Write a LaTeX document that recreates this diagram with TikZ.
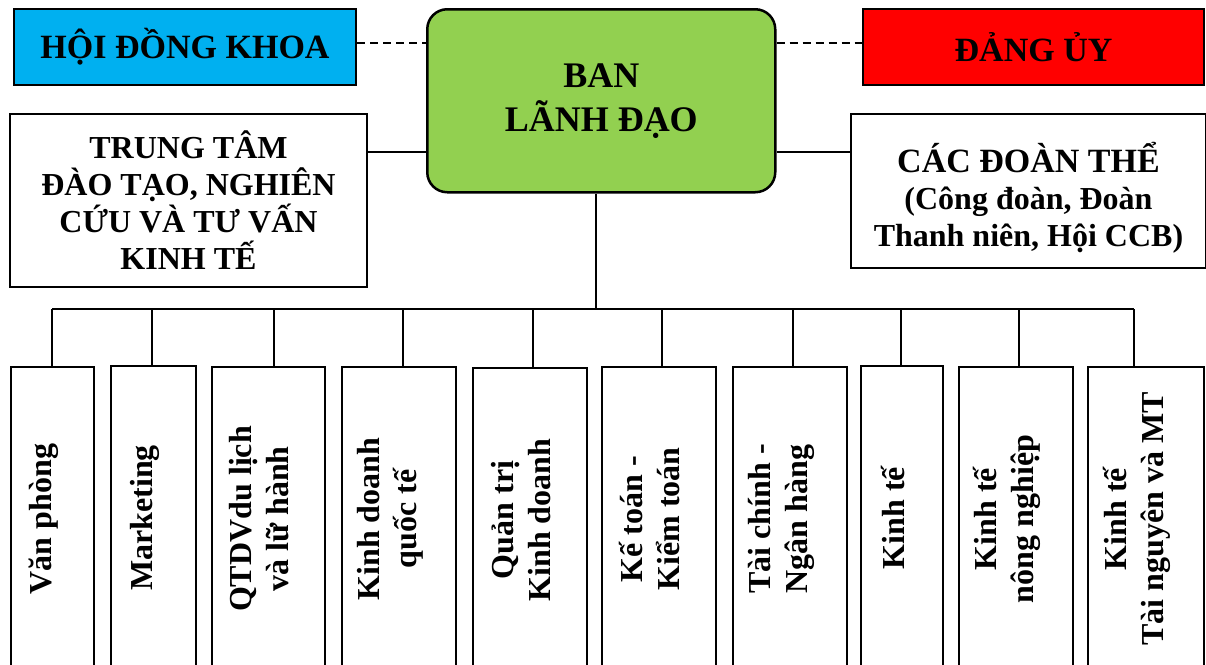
\documentclass[tikz,border=0pt]{standalone}
\usepackage{fontspec}
\setmainfont{Liberation Serif}
\definecolor{hoiblue}{HTML}{00B0F0}
\definecolor{dangred}{HTML}{FF0000}
\definecolor{bangreen}{HTML}{92D050}
\tikzset{
  box/.style={draw, line width=2pt, anchor=north west, inner sep=0pt, align=center,
    font=\bfseries\fontsize{32}{37}\selectfont},
  unitbox/.style={draw, line width=2pt, anchor=north west, inner sep=0pt,
    minimum height=304pt},
  vlabel/.style={rotate=90, align=center, inner sep=0pt,
    font=\bfseries\fontsize{32}{37}\selectfont},
  link/.style={line width=1.6pt},
  dashlink/.style={line width=1.6pt, dash pattern=on 8pt off 5pt},
}
\begin{document}
\begin{tikzpicture}[x=1pt,y=-1pt]
\useasboundingbox (0,0) rectangle (1206,664);
\clip (0,0) rectangle (1206,664);
\fill[white] (0,0) rectangle (1206,664);

% top row
\node[box, fill=hoiblue, minimum width=342pt, minimum height=76pt,
      font=\bfseries\fontsize{34}{40}\selectfont] (hoi) at (13,8) {HỘI ĐỒNG KHOA};
\node[box, fill=dangred, minimum width=341pt, minimum height=76pt,
      font=\bfseries\fontsize{34}{40}\selectfont] (dang) at (862,8) {ĐẢNG ỦY};
\node[box, fill=bangreen, rounded corners=20pt, line width=2.5pt,
      minimum width=348pt, minimum height=183pt,
      font=\bfseries\fontsize{36}{44}\selectfont] (ban) at (426,8) {BAN\\LÃNH ĐẠO};

% second row
\node[box, minimum width=357pt, minimum height=173pt] (tt) at (9,113)
  {TRUNG TÂM\\ĐÀO TẠO, NGHIÊN\\CỨU VÀ TƯ VẤN\\KINH TẾ};
\node[box, minimum width=355pt, minimum height=154pt] (dt) at (850,113)
  {\rule{0pt}{44pt}{\fontsize{34}{37}\selectfont CÁC ĐOÀN THỂ}\\(Công đoàn, Đoàn\\Thanh niên, Hội CCB)};

% dashed links
\draw[dashlink] ([yshift=4pt]hoi.east) -- ([yshift=4pt]hoi.east -| ban.west);
\draw[dashlink] ([yshift=4pt]dang.west -| ban.east) -- ([yshift=4pt]dang.west);

% side links
\coordinate (ylink) at (0,152);
\draw[line width=1.3pt] (tt.east |- ylink) -- (ban.west |- ylink);
\draw[line width=1.3pt] (ban.east |- ylink) -- (dt.west |- ylink);

% bottom boxes
\node[unitbox, minimum width=83pt]  (b1)  at (10,366)  {};
\node[unitbox, minimum width=85pt]  (b2)  at (110,365) {};
\node[unitbox, minimum width=113pt] (b3)  at (211,366) {};
\node[unitbox, minimum width=114pt] (b4)  at (341,366) {};
\node[unitbox, minimum width=114pt] (b5)  at (472,367) {};
\node[unitbox, minimum width=114pt] (b6)  at (601,366) {};
\node[unitbox, minimum width=114pt] (b7)  at (732,366) {};
\node[unitbox, minimum width=82pt]  (b8)  at (860,365) {};
\node[unitbox, minimum width=114pt] (b9)  at (958,366) {};
\node[unitbox, minimum width=116pt] (b10) at (1087,366) {};

\node[vlabel] (l1)  at ([xshift=-9pt]b1.center)  {Văn phòng};
\node[vlabel] (l2)  at ([xshift=-9pt]b2.center)  {Marketing};
\node[vlabel] (l3)  at ([xshift=-9pt]b3.center)  {QTDVdu lịch\\và lữ hành};
\node[vlabel] (l4)  at ([xshift=-9pt]b4.center)  {Kinh doanh\\quốc tế};
\node[vlabel] (l5)  at ([xshift=-9pt]b5.center)  {Quản trị\\Kinh doanh};
\node[vlabel] (l6)  at ([xshift=-9pt]b6.center)  {Kế toán -\\Kiểm toán};
\node[vlabel] (l7)  at ([xshift=-9pt]b7.center)  {Tài chính -\\Ngân hàng};
\node[vlabel] (l8)  at ([xshift=-9pt]b8.center)  {Kinh tế};
\node[vlabel] (l9)  at ([xshift=-9pt]b9.center)  {Kinh tế\\nông nghiệp};
\node[vlabel] (l10) at ([xshift=-9pt]b10.center) {Kinh tế\\Tài nguyên và MT};

% bus
\coordinate (busc) at (596,309);
\coordinate (d1) at (52,309);
\coordinate (d2) at (152,309);
\coordinate (d3) at (274,309);
\coordinate (d4) at (403,309);
\coordinate (d5) at (533,309);
\coordinate (d6) at (662,309);
\coordinate (d7) at (793,309);
\coordinate (d8) at (901,309);
\coordinate (d9) at (1019,309);
\coordinate (d10) at (1134,309);
\draw[link] (ban.south -| busc) -- (busc);
\draw[link] (d1) -- (d10);
\foreach \i in {1,...,10}{
  \draw[link] (d\i) -- (d\i |- b\i.north);
}
\end{tikzpicture}
\end{document}
